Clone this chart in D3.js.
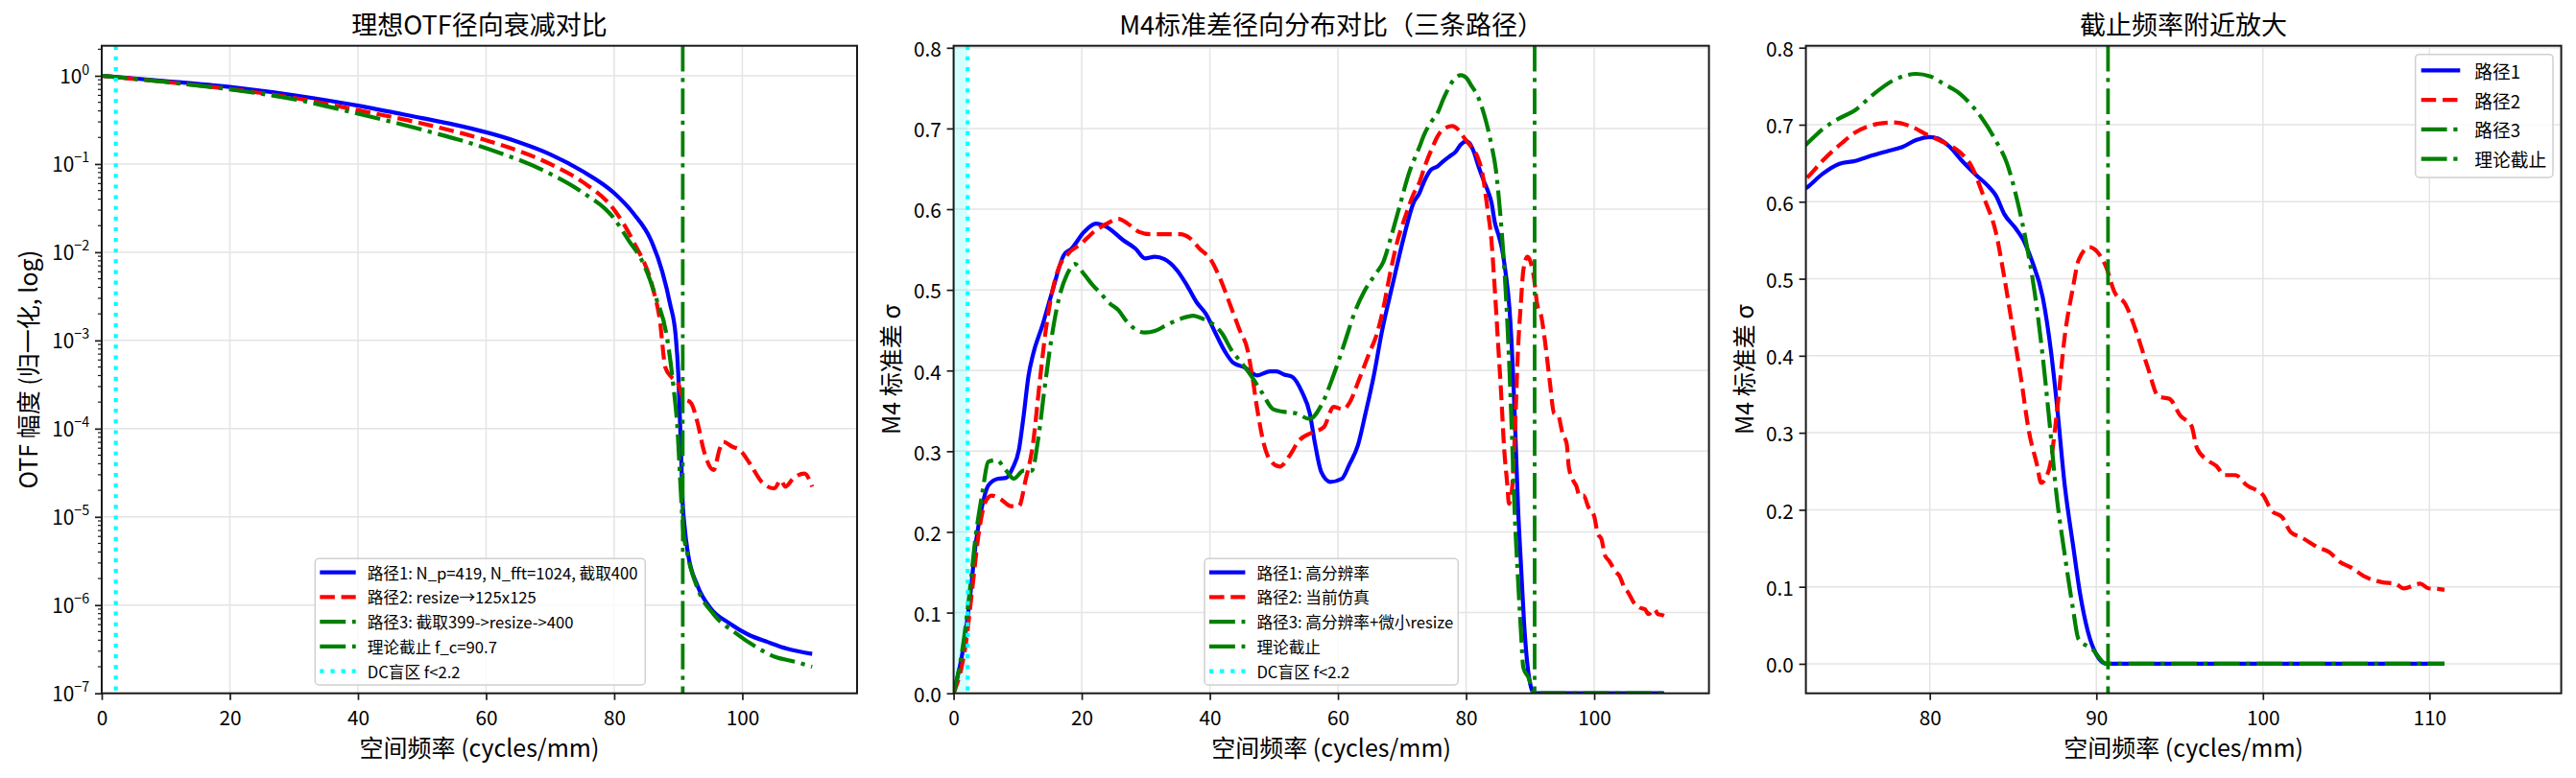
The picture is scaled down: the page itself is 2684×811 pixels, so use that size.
<!DOCTYPE html>
<html><head><meta charset="utf-8">
<script src="https://cdn.jsdelivr.net/npm/d3@7/dist/d3.min.js"></script>
<style>
body{margin:0;background:#fff;}
svg text{font-family:"Noto Sans CJK SC","Noto Sans",sans-serif;fill:#000;}
</style></head><body>
<svg id="chart" width="2684" height="811"></svg>
<script>
// ---------------- DATA ----------------
const cutoffFreq = 90.7;
const dcFreq = 2.2;

const titles = ["理想OTF径向衰减对比", "M4标准差径向分布对比（三条路径）", "截止频率附近放大"];
const xLabel = "空间频率 (cycles/mm)";
const yLabels = ["OTF 幅度 (归一化, log)", "M4 标准差 σ", "M4 标准差 σ"];

const xTicksFull = [0, 20, 40, 60, 80, 100];
const xTicksZoom = [80, 90, 100, 110];
const yTicksLogExp = [0, -1, -2, -3, -4, -5, -6, -7];
const yTicksSigma = [0.0, 0.1, 0.2, 0.3, 0.4, 0.5, 0.6, 0.7, 0.8];

const legendOtf = ["路径1: N_p=419, N_fft=1024, 截取400", "路径2: resize→125x125", "路径3: 截取399->resize->400", "理论截止 f_c=90.7", "DC盲区 f<2.2"];
const legendSigma = ["路径1: 高分辨率", "路径2: 当前仿真", "路径3: 高分辨率+微小resize", "理论截止", "DC盲区 f<2.2"];
const legendZoom = ["路径1", "路径2", "路径3", "理论截止"];

// OTF amplitude (normalized)
const otfFreq1 = [0, 10, 20, 30, 40, 50, 55, 60, 65, 70, 75, 80, 83, 85.7, 87.5, 88.7, 89.6, 90.0, 90.24, 90.49, 90.64, 91.0, 91.5, 93.0, 95.0, 98.0, 101, 104, 107, 110.9];
const otfAmp1 = [1, 0.871, 0.746, 0.603, 0.459, 0.331, 0.28, 0.229, 0.178, 0.129, 0.0832, 0.0468, 0.0275, 0.0139, 0.00603, 0.00263, 0.00112, 4.17e-4, 1.41e-4, 3.98e-5, 1.74e-5, 7.6e-6, 3.9e-6, 1.66e-6, 9.3e-7, 6.2e-7, 4.6e-7, 3.8e-7, 3.2e-7, 2.8e-7];

const otfFreq2 = [0, 10, 20, 30, 40, 50, 60, 70, 75, 80, 83, 86, 87.1, 88.0, 89.0, 90.0, 90.74, 92.0, 93.0, 94.0, 95.5, 96.5, 97.0, 98.5, 99.5, 101.2, 103.0, 105.0, 106.0, 106.7, 108.0, 109.7, 110.9];
const otfAmp2 = [1, 0.851, 0.708, 0.562, 0.407, 0.288, 0.186, 0.1, 0.063, 0.0302, 0.0132, 0.00398, 0.00174, 4.9e-4, 3.8e-4, 3.2e-4, 2.24e-4, 1.95e-4, 1.17e-4, 5.6e-5, 3.4e-5, 6.0e-5, 7.1e-5, 6.2e-5, 5.8e-5, 4.0e-5, 2.5e-5, 2.1e-5, 2.6e-5, 2.2e-5, 2.75e-5, 3.1e-5, 2.2e-5];

const otfFreq3 = [0, 10, 20, 30, 40, 50, 60, 70, 75, 80, 82.2, 84.5, 86.5, 88.2, 89.2, 89.9, 90.3, 90.74, 91.4, 93.0, 95.5, 99.0, 102, 105, 108, 110.9];
const otfAmp3 = [1, 0.851, 0.70, 0.543, 0.372, 0.245, 0.151, 0.0776, 0.0479, 0.024, 0.0138, 0.00759, 0.00309, 0.00112, 3.2e-4, 9.3e-5, 2.6e-5, 7.6e-6, 3.9e-6, 1.55e-6, 7.9e-7, 4.8e-7, 3.4e-7, 2.6e-7, 2.3e-7, 2.0e-7];

// M4 standard deviation
const sigFreq1 = [0, 1.46, 2.45, 3.45, 4.45, 5.45, 6.95, 8.2, 9.2, 10.2, 10.9, 11.7, 12.4, 13.9, 15.4, 17.2, 18.4, 20.4, 22.2, 23.9, 26.4, 28.4, 29.9, 31.4, 32.9, 34.9, 36.4, 37.9, 39.4, 40.9, 42.4, 43.6, 45.4, 47.4, 49.4, 50.4, 51.6, 52.9, 54.4, 55.6, 56.4, 57.4, 58.8, 60.6, 61.8, 63.1, 64.3, 65.6, 66.8, 68.6, 70.3, 71.8, 72.66, 73.55, 74.54, 75.53, 76.53, 77.52, 78.35, 79.17, 80, 80.5, 81.16, 81.98, 82.81, 83.47, 83.97, 84.47, 85.13, 85.62, 86.12, 86.78, 87.28, 87.61, 88.1, 88.6, 89.03, 89.49, 90.0, 90.59, 110.9];
const sigma1 = [0, 0.054, 0.111, 0.185, 0.232, 0.258, 0.266, 0.267, 0.279, 0.302, 0.342, 0.394, 0.42, 0.457, 0.498, 0.543, 0.551, 0.572, 0.582, 0.578, 0.562, 0.551, 0.539, 0.541, 0.538, 0.524, 0.506, 0.485, 0.47, 0.446, 0.423, 0.41, 0.404, 0.394, 0.399, 0.399, 0.395, 0.392, 0.373, 0.347, 0.31, 0.274, 0.262, 0.266, 0.284, 0.307, 0.347, 0.394, 0.446, 0.509, 0.566, 0.608, 0.619, 0.636, 0.649, 0.653, 0.66, 0.666, 0.671, 0.68, 0.684, 0.682, 0.672, 0.652, 0.634, 0.621, 0.608, 0.584, 0.566, 0.55, 0.524, 0.476, 0.405, 0.341, 0.232, 0.154, 0.09, 0.042, 0.012, 0, 0];

const sigFreq2 = [0, 1.95, 2.95, 3.95, 4.95, 5.94, 7.44, 8.94, 10.2, 11.2, 12.4, 13.4, 14.4, 15.4, 16.4, 17.9, 19.9, 21.9, 23.9, 25.7, 27.2, 28.9, 30.7, 32.9, 35.4, 36.9, 38.4, 40.1, 41.6, 43.1, 44.6, 45.9, 46.6, 47.4, 48.4, 49.4, 50.9, 52.4, 53.9, 55.9, 57.8, 59.3, 60.8, 61.8, 63.3, 64.8, 66.1, 67.1, 68.1, 69.3, 70.6, 71.8, 72.66, 73.55, 74.71, 75.53, 76.86, 77.85, 78.84, 79.83, 80.83, 81.82, 82.48, 83.31, 83.97, 84.47, 84.96, 85.46, 85.95, 86.45, 86.68, 87.18, 87.61, 88.1, 88.6, 88.93, 89.59, 90.09, 90.59, 91.08, 91.74, 92.4, 93.07, 93.73, 94.39, 95.05, 95.71, 96.04, 96.7, 97.2, 97.7, 98.36, 99.02, 100.01, 100.51, 101.17, 101.67, 102.33, 103.32, 103.98, 104.64, 105.3, 106.13, 107.13, 107.95, 108.45, 109.44, 109.94, 110.6, 110.9];
const sigma2 = [0, 0.064, 0.132, 0.2, 0.237, 0.245, 0.24, 0.232, 0.232, 0.263, 0.31, 0.383, 0.451, 0.498, 0.527, 0.545, 0.557, 0.572, 0.582, 0.588, 0.582, 0.572, 0.569, 0.569, 0.569, 0.564, 0.551, 0.538, 0.514, 0.483, 0.451, 0.425, 0.394, 0.352, 0.31, 0.289, 0.281, 0.294, 0.313, 0.323, 0.33, 0.355, 0.352, 0.36, 0.389, 0.42, 0.446, 0.478, 0.519, 0.561, 0.593, 0.619, 0.632, 0.653, 0.676, 0.69, 0.701, 0.703, 0.698, 0.687, 0.677, 0.664, 0.647, 0.602, 0.56, 0.502, 0.438, 0.373, 0.302, 0.257, 0.235, 0.254, 0.322, 0.425, 0.489, 0.524, 0.541, 0.534, 0.515, 0.483, 0.467, 0.431, 0.386, 0.347, 0.344, 0.322, 0.309, 0.28, 0.264, 0.257, 0.245, 0.245, 0.232, 0.219, 0.199, 0.19, 0.171, 0.164, 0.151, 0.145, 0.132, 0.125, 0.113, 0.106, 0.104, 0.098, 0.104, 0.098, 0.097, 0.096];

const sigFreq3 = [0, 1.46, 2.45, 3.45, 4.45, 5.45, 6.7, 8.2, 9.4, 10.9, 12.2, 13.2, 14.2, 15.2, 16.4, 17.7, 18.9, 20.4, 21.7, 22.9, 24.4, 25.7, 26.9, 28.4, 29.9, 31.4, 33.4, 35.4, 37.4, 38.9, 40.4, 41.9, 43.4, 44.9, 46.4, 48.1, 49.9, 51.4, 53.4, 55.6, 57.4, 59.3, 61.1, 62.6, 64.1, 65.8, 67.1, 68.3, 69.6, 71.1, 72.66, 73.55, 74.54, 75.53, 76.53, 77.85, 79.17, 80, 80.83, 81.82, 82.48, 83.14, 83.97, 84.63, 85.29, 85.79, 86.29, 86.78, 87.18, 87.61, 88.1, 88.6, 88.93, 89.76, 90.59, 110.9];
const sigma3 = [0, 0.059, 0.122, 0.195, 0.247, 0.287, 0.289, 0.276, 0.266, 0.276, 0.276, 0.315, 0.378, 0.436, 0.488, 0.519, 0.532, 0.519, 0.506, 0.496, 0.483, 0.475, 0.462, 0.451, 0.447, 0.449, 0.457, 0.464, 0.468, 0.464, 0.458, 0.446, 0.425, 0.41, 0.394, 0.373, 0.352, 0.349, 0.347, 0.34, 0.357, 0.394, 0.436, 0.472, 0.498, 0.519, 0.535, 0.566, 0.603, 0.645, 0.676, 0.694, 0.708, 0.719, 0.738, 0.758, 0.766, 0.763, 0.753, 0.74, 0.726, 0.708, 0.679, 0.65, 0.598, 0.547, 0.483, 0.399, 0.315, 0.219, 0.142, 0.071, 0.032, 0.019, 0, 0];

// ---------------- DRAW ----------------
const svg = d3.select("#chart");
const TOP = 47.7, BOT = 722.7, H = BOT - TOP, W = 787;
const LW = 4.2;
const DASH = {
  solid: null,
  dashed: [3.7 * LW, 1.6 * LW].join(","),
  dashdot: [6.4 * LW, 1.6 * LW, LW, 1.6 * LW].join(","),
  dotted: [LW, 1.65 * LW].join(",")
};
const COL = {blue: "#0000ff", red: "#ff0000", green: "#008000", cyan: "#00ffff"};
const AX = "#1a1a1a";
const FS_TICK = 20.8, FS_LABEL = 25, FS_TITLE = 27;

function styleLine(sel, color, dash, w) {
  sel.attr("stroke", color).attr("stroke-width", w || LW).attr("fill", "none")
     .attr("stroke-dasharray", dash).attr("stroke-linejoin", "round");
}

function drawPanel(o) {
  const g = svg.append("g").attr("transform", `translate(${o.left},${TOP})`);
  const x = d3.scaleLinear().domain(o.xDomain).range([0, W]);
  const y = o.log ? d3.scaleLog().domain(o.yDomain).range([H, 0])
                  : d3.scaleLinear().domain(o.yDomain).range([H, 0]);
  const clipId = "clip" + o.idx;
  g.append("clipPath").attr("id", clipId).append("rect").attr("width", W).attr("height", H);

  // grid
  const grid = g.append("g");
  o.xTicks.forEach(t => grid.append("line").attr("x1", x(t)).attr("x2", x(t)).attr("y1", 0).attr("y2", H));
  o.yTickVals.forEach(t => grid.append("line").attr("x1", 0).attr("x2", W).attr("y1", y(t)).attr("y2", y(t)));
  grid.selectAll("line").attr("stroke", "#e4e4e4").attr("stroke-width", 1.5);

  const plot = g.append("g").attr("clip-path", `url(#${clipId})`);
  if (o.span) {
    plot.append("rect").attr("x", x(0)).attr("y", 0).attr("width", x(dcFreq) - x(0)).attr("height", H)
      .attr("fill", COL.cyan).attr("opacity", 0.17);
  }
  const line = d3.line().x(d => x(d[0])).y(d => y(d[1])).curve(d3.curveMonotoneX);
  o.series.forEach(s => {
    const pts = s.f.map((f, i) => [f, s.v[i]]);
    plot.append("path").datum(pts).attr("d", line).call(styleLine, s.color, DASH[s.dash]);
  });
  if (o.dcLine) {
    plot.append("line").attr("x1", x(dcFreq)).attr("x2", x(dcFreq)).attr("y1", 0).attr("y2", H)
      .call(styleLine, COL.cyan, DASH.dotted);
  }
  plot.append("line").attr("x1", x(cutoffFreq)).attr("x2", x(cutoffFreq)).attr("y1", 0).attr("y2", H)
    .call(styleLine, COL.green, DASH.dashdot, 3.8);

  // axes
  const xa = g.append("g").attr("transform", `translate(0,${H})`)
    .call(d3.axisBottom(x).tickValues(o.xTicks).tickSize(7).tickFormat(d3.format("d")));
  xa.select(".domain").remove();
  xa.selectAll(".tick line").attr("stroke", AX).attr("stroke-width", 1.7);
  xa.selectAll(".tick text").attr("y", 33.8).attr("dy", null)
    .attr("font-size", FS_TICK).attr("fill", "#000");

  const ya = g.append("g")
    .call(d3.axisLeft(y).tickValues(o.yTickVals).tickSize(7).tickFormat(o.log ? () => "" : d3.format(".1f")));
  ya.select(".domain").remove();
  ya.selectAll(".tick line").attr("stroke", AX).attr("stroke-width", 1.7);
  ya.selectAll(".tick text").attr("x", -12.8).attr("dy", null).attr("y", o.log ? 7.3 : 8.8)
    .attr("font-size", FS_TICK).attr("fill", "#000");
  if (o.log) {
    ya.selectAll(".tick text").each(function(d, i) {
      const t = d3.select(this);
      t.text(null);
      t.append("tspan").text("10");
      t.append("tspan").attr("dy", -9.3).attr("font-size", 14.3)
        .text(String(o.yTicksExp[i]).replace("-", "\u2212"));
    });
    // minor ticks
    const minors = [];
    for (let k = -7; k <= 0; k++) for (let m = 2; m <= 9; m++) {
      const v = m * Math.pow(10, k);
      if (v > o.yDomain[0] && v < o.yDomain[1]) minors.push(v);
    }
    g.append("g").selectAll("line").data(minors).join("line")
      .attr("x1", 0).attr("x2", -4).attr("y1", d => y(d)).attr("y2", d => y(d))
      .attr("stroke", AX).attr("stroke-width", 1.2);
  }

  // spines
  g.append("rect").attr("width", W).attr("height", H).attr("fill", "none")
    .attr("stroke", AX).attr("stroke-width", 2);

  // labels
  svg.append("text").attr("x", o.left + W / 2).attr("y", 36).attr("text-anchor", "middle")
    .attr("font-size", FS_TITLE).text(o.title);
  svg.append("text").attr("x", o.left + W / 2).attr("y", 788.5).attr("text-anchor", "middle")
    .attr("font-size", FS_LABEL).text(xLabel);
  svg.append("text").attr("transform", `translate(${o.ylabX},${TOP + H / 2}) rotate(-90)`)
    .attr("text-anchor", "middle").attr("dominant-baseline", "central")
    .attr("font-size", FS_LABEL).text(o.ylabel);

  // legend
  const L = o.legend;
  const lg = svg.append("g").attr("transform", `translate(${L.x},${L.y})`);
  lg.append("rect").attr("width", L.w).attr("height", L.h).attr("rx", 4)
    .attr("fill", "#fff").attr("fill-opacity", 0.8).attr("stroke", "#d0d0d0").attr("stroke-width", 1.5);
  L.items.forEach((it, i) => {
    const yy = L.row0 + i * L.step;
    lg.append("line").attr("x1", L.h0).attr("x2", L.h1).attr("y1", yy).attr("y2", yy)
      .call(styleLine, it.color, DASH[it.dash]);
    lg.append("text").attr("x", L.tx).attr("y", yy).attr("dominant-baseline", "central")
      .attr("font-size", L.fs).text(it.label);
  });
}

const seriesStyle = [
  {color: COL.blue, dash: "solid"},
  {color: COL.red, dash: "dashed"},
  {color: COL.green, dash: "dashdot"},
  {color: COL.green, dash: "dashdot"},
  {color: COL.cyan, dash: "dotted"}
];

const sigmaSeries = [
  {f: sigFreq1, v: sigma1, color: COL.blue, dash: "solid"},
  {f: sigFreq2, v: sigma2, color: COL.red, dash: "dashed"},
  {f: sigFreq3, v: sigma3, color: COL.green, dash: "dashdot"}
];

drawPanel({
  idx: 1, left: 106, xDomain: [0, cutoffFreq * 1.3], log: true, yDomain: [1e-7, 2.19],
  xTicks: xTicksFull, yTickVals: yTicksLogExp.map(e => Math.pow(10, e)), yTicksExp: yTicksLogExp,
  span: false, dcLine: true,
  series: [
    {f: otfFreq1, v: otfAmp1, color: COL.blue, dash: "solid"},
    {f: otfFreq2, v: otfAmp2, color: COL.red, dash: "dashed"},
    {f: otfFreq3, v: otfAmp3, color: COL.green, dash: "dashdot"}
  ],
  title: titles[0], ylabel: yLabels[0], ylabX: 28,
  legend: {x: 328.3, y: 582.3, w: 344, h: 131.7, row0: 14.4, step: 25.75, h0: 5, h1: 42.4, tx: 54.4, fs: 16.67,
           items: legendOtf.map((l, i) => Object.assign({label: l}, seriesStyle[i]))}
});

drawPanel({
  idx: 2, left: 993.6, xDomain: [0, cutoffFreq * 1.3], log: false, yDomain: [0, 0.8025],
  xTicks: xTicksFull, yTickVals: yTicksSigma, span: true, dcLine: true,
  series: sigmaSeries,
  title: titles[1], ylabel: yLabels[1], ylabX: 926.7,
  legend: {x: 1255, y: 582.3, w: 264.3, h: 131.7, row0: 14.4, step: 25.75, h0: 5, h1: 42.4, tx: 54.4, fs: 16.67,
           items: legendSigma.map((l, i) => Object.assign({label: l}, seriesStyle[i]))}
});

drawPanel({
  idx: 3, left: 1881.6, xDomain: [cutoffFreq * 0.8, cutoffFreq * 1.3], log: false, yDomain: [-0.0383, 0.8025],
  xTicks: xTicksZoom, yTickVals: yTicksSigma, span: false, dcLine: false,
  series: sigmaSeries,
  title: titles[2], ylabel: yLabels[2], ylabX: 1815.6,
  legend: {x: 2516.7, y: 56.7, w: 143.3, h: 128.3, row0: 16.6, step: 30.8, h0: 6, h1: 46.6, tx: 61.6, fs: 18.75,
           items: legendZoom.map((l, i) => Object.assign({label: l}, seriesStyle[i]))}
});
</script>
</body></html>
